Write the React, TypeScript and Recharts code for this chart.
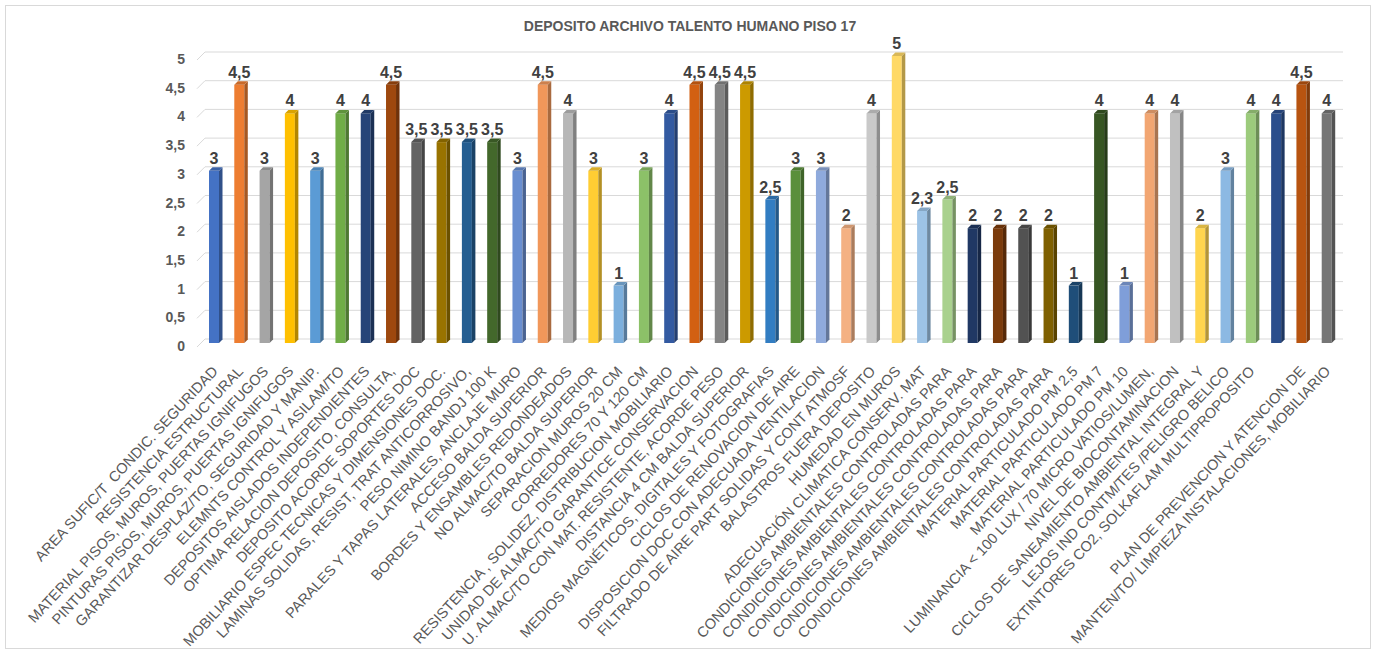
import React from "react";
import { BarChart, Bar, XAxis, YAxis, CartesianGrid, LabelList, Cell } from "recharts";

const categories = [
  "AREA SUFIC/T  CONDIC. SEGURIDAD",
  "RESISTENCIA ESTRUCTURAL",
  "MATERIAL PISOS, MUROS, PUERTAS IGNIFUGOS",
  "PINTURAS PISOS, MUROS, PUERTAS IGNIFUGOS",
  "GARANTIZAR DESPLAZ/TO, SEGURIDAD Y MANIP.",
  "ELEMNTS CONTROL Y ASILAM/TO",
  "DEPOSITOS AISLADOS INDEPENDIENTES",
  "OPTIMA RELACION DEPOSITO, CONSULTA,",
  "DEPOSITO ACORDE SOPORTES DOC",
  "MOBILIARIO ESPEC TECNICAS Y DIMENSIONES DOC.",
  "LAMINAS SOLIDAS, RESIST, TRAT ANTICORROSIVO,",
  "PESO NIMINO BANDJ 100 K",
  "PARALES Y TAPAS LATERALES, ANCLAJE MURO",
  "ACCESO BALDA SUPERIOR",
  "BORDES Y ENSAMBLES REDONDEADOS",
  "NO ALMAC/TO BALDA SUPERIOR",
  "SEPARACION MUROS 20 CM",
  "CORREDORES 70 Y 120 CM",
  "RESISTENCIA , SOLIDEZ, DISTRIBUCION MOBILIARIO",
  "UNIDAD DE ALMAC/TO GARANTICE CONSERVACION",
  "U. ALMAC/TO CON MAT. RESISTENTE, ACORDE PESO",
  "DISTANCIA 4 CM BALDA SUPERIOR",
  "MEDIOS MAGNÉTICOS, DIGITALES Y FOTOGRAFIAS",
  "CICLOS DE RENOVACION DE AIRE",
  "DISPOSICION DOC CON ADECUADA VENTILACION",
  "FILTRADO DE AIRE PART SOLIDAS Y CONT ATMOSF",
  "BALASTROS FUERA DEPOSITO",
  "HUMEDAD EN MUROS",
  "ADECUACIÓN CLIMATICA CONSERV. MAT",
  "CONDICIONES AMBIENTALES CONTROLADAS PARA",
  "CONDICIONES AMBIENTALES CONTROLADAS PARA",
  "CONDICIONES AMBIENTALES CONTROLADAS PARA",
  "CONDICIONES AMBIENTALES CONTROLADAS PARA",
  "CONDICIONES AMBIENTALES CONTROLADAS PARA",
  "MATERIAL PARTICULADO PM 2,5",
  "MATERIAL PARTICULADO PM 7",
  "MATERIAL PARTICULADO PM 10",
  "LUMINANCIA < 100 LUX / 70 MICRO VATIOS/LUMEN,",
  "NIVEL DE BIOCONTAMINACION",
  "CICLOS DE SANEAMIENTO AMBIENTAL INTEGRAL Y",
  "LEJOS IND CONTM/TES /PELIGRO BELICO",
  "EXTINTORES CO2, SOLKAFLAM MULTIPROPOSITO",
  "",
  "PLAN DE PREVENCION Y ATENCION DE",
  "MANTEN/TO/ LIMPIEZA INSTALACIONES, MOBILIARIO",
];

const scores = [
  3, 4.5, 3, 4, 3, 4, 4, 4.5, 3.5, 3.5, 3.5, 3.5, 3, 4.5, 4, 3, 1, 3, 4, 4.5, 4.5, 4.5,
  2.5, 3, 3, 2, 4, 5, 2.3, 2.5, 2, 2, 2, 2, 1, 4, 1, 4, 4, 2, 3, 4, 4, 4.5, 4,
];

const barColors = [
  "#4472C4", "#ED7D31", "#A5A5A5", "#FFC000", "#5B9BD5", "#70AD47",
  "#264478", "#9E480E", "#636363", "#997300", "#255E91", "#43682B",
  "#698ED0", "#F1975A", "#B7B7B7", "#FFCD33", "#7CAFDD", "#8CC168",
  "#335AA1", "#D26012", "#848484", "#CC9A00", "#327DC2", "#5A8F3B",
  "#8FAADC", "#F4B183", "#C9C9C9", "#FFD966", "#9DC3E6", "#A9D18E",
  "#203864", "#7B3B0B", "#525252", "#7F6000", "#1F4E79", "#375623",
  "#7F9ED9", "#F2A672", "#C0C0C0", "#FFD54E", "#8CB9E3", "#9CCB7C",
  "#2B4E8C", "#B85410", "#767676",
];

const yTicks = [0, 0.5, 1, 1.5, 2, 2.5, 3, 3.5, 4, 4.5, 5];

const data = categories.map((name, i) => ({ idx: i, name, value: scores[i] }));

const FONT = "'Liberation Sans', Arial, sans-serif";
const comma = (v: number) => String(v).replace(".", ",");

// darken a hex colour for the 3d side face
const shade = (hex: string, f: number) => {
  const n = parseInt(hex.slice(1), 16);
  const c = [(n >> 16) & 255, (n >> 8) & 255, n & 255].map((v) => Math.round(v * f));
  return `rgb(${c[0]},${c[1]},${c[2]})`;
};

const Bar3D = (props: any) => {
  const { x, y, width, height, fill } = props;
  if (!height) return null;
  const d = 3.5;
  return (
    <g>
      <rect x={x} y={y} width={width} height={height} fill={fill} />
      <polygon
        points={`${x + width},${y} ${x + width + d},${y - d} ${x + width + d},${y + height - d} ${x + width},${y + height}`}
        fill={shade(fill, 0.7)}
      />
      <polygon
        points={`${x},${y} ${x + d},${y - d} ${x + width + d},${y - d} ${x + width},${y}`}
        fill={shade(fill, 0.85)}
      />
    </g>
  );
};

const gridLine = (p: any) => (
  <g key={p.key}>
    <line x1={p.x1 + 4} y1={p.y1 - 4} x2={p.x2 + 4} y2={p.y2 - 4} stroke="#D9D9D9" />
    <line x1={p.x1 - 4} y1={p.y1 + 4} x2={p.x1 + 4} y2={p.y1 - 4} stroke="#D9D9D9" />
  </g>
);

const CategoryTick = (props: any) => {
  const { x, y, payload } = props;
  return (
    <g transform={`translate(${x + 5},${y + 21})`}>
      <text
        x={0}
        y={0}
        textAnchor="end"
        transform="rotate(-47)"
        fontSize={14.6}
        fontFamily={FONT}
        fill="#595959"
        style={{ whiteSpace: "pre" }}
      >
        {categories[payload.value]}
      </text>
    </g>
  );
};

const ValueTick = (props: any) => {
  const { x, y, payload } = props;
  return (
    <text x={x - 8} y={y + 3} dy={5} textAnchor="end" fontSize={14} fontWeight="bold" fontFamily={FONT} fill="#595959">
      {comma(payload.value)}
    </text>
  );
};

export default function App() {
  return (
    <div style={{ position: "absolute", left: 0, top: 0, width: 1375, height: 656, background: "#fff" }}>
      <div
        style={{
          position: "absolute",
          left: 5,
          top: 5,
          width: 1366,
          height: 644,
          border: "1px solid #D9D9D9",
          boxSizing: "border-box",
        }}
      />
      <div
        style={{
          position: "absolute",
          left: 0,
          width: 1380,
          top: 18,
          textAlign: "center",
          fontFamily: FONT,
          fontWeight: "bold",
          fontSize: 14,
          color: "#595959",
        }}
      >
        DEPOSITO ARCHIVO TALENTO HUMANO PISO 17
      </div>
      <div style={{ position: "absolute", left: 0, top: 0 }}>
        <BarChart width={1375} height={656} data={data} margin={{ top: 56, right: 36, bottom: 0, left: 0 }}>
          <CartesianGrid vertical={false} horizontal={gridLine} />
          <XAxis
            dataKey="idx"
            type="category"
            interval={0}
            height={313}
            axisLine={false}
            tickLine={false}
            tick={<CategoryTick />}
          />
          <YAxis
            type="number"
            domain={[0, 5]}
            ticks={yTicks}
            width={201}
            axisLine={false}
            tickLine={false}
            tick={<ValueTick />}
          />
          <Bar dataKey="value" barSize={10} shape={<Bar3D />} isAnimationActive={false}>
            {data.map((d, i) => (
              <Cell key={d.idx} fill={barColors[i]} />
            ))}
            <LabelList
              dataKey="value"
              position="top"
              offset={7}
              formatter={(v: any) => comma(v)}
              style={{ fontSize: 16, fontWeight: "bold", fontFamily: FONT, fill: "#404040" }}
            />
          </Bar>
        </BarChart>
      </div>
    </div>
  );
}
